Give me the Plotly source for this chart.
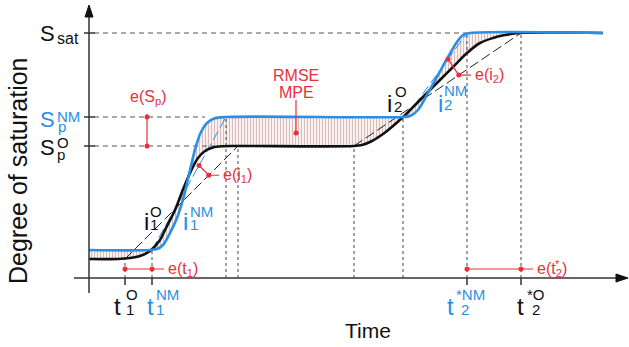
import math
import plotly.graph_objects as go

# ---------------------------------------------------------------
# Schematic: observed (O) vs. numerical model (NM) saturation curve
# x = time (arbitrary units), y = degree of saturation (arbitrary units)
# ---------------------------------------------------------------

# characteristic saturation levels
S_SAT = 245
SP_NM = 161
SP_O = 132
S_INIT_O = 19
S_INIT_NM = 28

# characteristic times
T1_O = 125
T1_NM = 152
T_PLAT_NM = 226
T_PLAT_O = 238
T_RISE2_O = 354
T_I2 = 403
T2S_NM = 467
T2S_O = 521

# observed curve (black)
obs_t = [89, 118, 130, 140, 150, 160, 165, 175, 182, 190, 198, 205, 213, 222, 235,
         354, 362, 372, 383, 393, 403, 417, 428, 440, 453, 467, 480, 493, 505, 520, 603]
obs_s = [19, 19, 20, 22, 27, 38, 48, 68, 86, 105, 120, 127, 130.5, 131.7, 132,
         132, 133, 137, 144, 152, 161, 175, 186, 198, 211, 225, 235, 240, 243, 245, 245]

# numerical-model curve (blue)
nm_t = [89, 150, 157, 163, 170, 177, 184, 190, 196, 201, 207, 214, 226,
        403, 410, 418, 428, 438, 448, 457, 463, 470, 603]
nm_s = [28, 28, 29, 33, 45, 60, 82, 108, 132, 146, 155, 159.5, 161,
        161, 162, 168, 185, 203, 221, 236, 243, 245, 245]

# axis geometry
AX_T0, AX_T1 = 74, 628
AX_S0, AX_S1 = -15, 273
AXIS_T = 89

BLACK = "#111111"
BLUE = "#2a8fe4"
RED = "#e8303a"
GUIDE = "#555555"
FONT = "Liberation Sans, Arial, sans-serif"

fig = go.Figure()


def seg(x, y, color, width=1.0, dash=None, shape="linear"):
    line = dict(color=color, width=width, dash=dash, shape=shape)
    if shape == "spline":
        line["smoothing"] = 0.9
    fig.add_trace(go.Scatter(x=x, y=y, mode="lines", hoverinfo="skip", line=line))


# hatched area between the two curves
fig.add_trace(go.Scatter(x=obs_t, y=obs_s, mode="lines", hoverinfo="skip",
                         line=dict(color="rgba(0,0,0,0)", width=1, shape="spline", smoothing=0.9)))
fig.add_trace(go.Scatter(x=nm_t, y=nm_s, mode="lines", hoverinfo="skip", fill="tonexty",
                         fillcolor="rgba(245,232,232,0.6)",
                         fillpattern=dict(shape="|", size=3, solidity=0.35,
                                          fgcolor="rgba(170,95,95,0.75)",
                                          bgcolor="rgba(247,236,236,0.8)"),
                         line=dict(color="rgba(0,0,0,0)", width=1, shape="spline", smoothing=0.9)))

# horizontal guides
dash_h = "5px,4px"
seg([AXIS_T + 5, T2S_NM + 3], [S_SAT, S_SAT], GUIDE, 1, dash_h)
seg([AXIS_T + 5, 205], [SP_NM, SP_NM], GUIDE, 1, dash_h)
seg([AXIS_T + 5, 214], [SP_O, SP_O], GUIDE, 1, dash_h)

# vertical guides
dash_v = "3px,3px"
for t, s in [(T1_O, S_INIT_O), (T1_NM, S_INIT_NM), (T_PLAT_NM, SP_NM), (T_PLAT_O, SP_O),
             (T_RISE2_O, SP_O), (T_I2, SP_NM), (T2S_NM, S_SAT), (T2S_O, S_SAT)]:
    seg([t, t], [0, s], "#444444", 1, dash_v)

# tangent lines through the inflection points
blue_tan1 = ((T1_NM, S_INIT_NM), (T_PLAT_NM, SP_NM))
black_tan1 = ((T1_O, S_INIT_O), (T_PLAT_O, SP_O))
blue_tan2 = ((406, SP_NM), (T2S_NM, S_SAT))
black_tan2 = ((T_RISE2_O, SP_O), (T2S_O, S_SAT))
for (p, q), col in [(black_tan1, "#222222"), (black_tan2, "#222222"),
                    (blue_tan1, BLUE), (blue_tan2, BLUE)]:
    seg([p[0], q[0]], [p[1], q[1]], col, 1, "10px,4px")

# curves
seg(obs_t, obs_s, BLACK, 2.6, shape="spline")
seg(nm_t, nm_s, BLUE, 2.6, shape="spline")

# axes
seg([AX_T0, AX_T1 - 11], [0, 0], "#333333", 1.5)
seg([AXIS_T, AXIS_T], [AX_S0, AX_S1 - 11], "#333333", 1.5)
fig.add_trace(go.Scatter(x=[AX_T1, AX_T1 - 12, AX_T1 - 12, AX_T1], y=[0, 4, -4, 0],
                         mode="lines", fill="toself", fillcolor="#111111",
                         line=dict(color="#111111", width=1), hoverinfo="skip"))
fig.add_trace(go.Scatter(x=[AXIS_T, AXIS_T - 4, AXIS_T + 4, AXIS_T],
                         y=[AX_S1, AX_S1 - 12, AX_S1 - 12, AX_S1],
                         mode="lines", fill="toself", fillcolor="#111111",
                         line=dict(color="#111111", width=1), hoverinfo="skip"))
for s in [S_SAT, SP_NM, SP_O]:
    seg([AXIS_T - 5, AXIS_T + 6], [s, s], "#333333", 1.5)
for t in [T1_O, T1_NM, T2S_NM, T2S_O]:
    seg([t, t], [0, -7], "#333333", 1.5)


# error markers (red)
def red_path(x, y, dots):
    fig.add_trace(go.Scatter(x=x, y=y, mode="lines", hoverinfo="skip",
                             line=dict(color=RED, width=1.2)))
    fig.add_trace(go.Scatter(x=[x[i] for i in dots], y=[y[i] for i in dots], mode="markers",
                             hoverinfo="skip", marker=dict(color=RED, size=5)))


def foot(a, line):
    (x1, y1), (x2, y2) = line
    dx, dy = x2 - x1, y2 - y1
    n = math.hypot(dx, dy)
    k = ((a[0] - x1) * dx + (a[1] - y1) * dy) / n
    return (x1 + k * dx / n, y1 + k * dy / n)


def on_line(t, line):
    (x1, y1), (x2, y2) = line
    return (t, y1 + (t - x1) * (y2 - y1) / (x2 - x1))


# e(S_p)
red_path([147, 147], [SP_O, SP_NM + 3], [0])
fig.add_trace(go.Scatter(x=[147], y=[SP_NM], mode="markers", hoverinfo="skip",
                         marker=dict(color=RED, size=5)))
# RMSE / MPE
red_path([296, 296], [145, 178], [0])
# e(t1), e(t2*)
red_path([T1_O, T1_NM, 164], [9, 9, 9], [0, 1])
red_path([T2S_NM, T2S_O, 533], [9, 9, 9], [0, 1])
# e(i1), e(i2)
a1 = on_line(199, blue_tan1)
f1 = foot(a1, black_tan1)
red_path([a1[0], f1[0], 219], [a1[1], f1[1], f1[1]], [0, 1])
a2 = on_line(448, blue_tan2)
f2 = foot(a2, black_tan2)
red_path([a2[0], f2[0], 471], [a2[1], f2[1], f2[1]], [0, 1])

annotations = []


def txt(text, x, y, size, color=BLACK, xanchor="center", angle=0):
    annotations.append(dict(text=text, x=x, y=y, xref="x", yref="y", showarrow=False,
                            xanchor=xanchor, yanchor="middle", textangle=angle,
                            font=dict(family=FONT, size=size, color=color)))


def symbol(base, sup, sub, x, y, color, dx_sup, dx_sub, dy_sup=9, dy_sub=-4, size=24, small=15):
    txt(base, x, y, size, color)
    if sup:
        txt(sup, x + dx_sup, y + dy_sup, small, color, "left")
    if sub:
        txt(sub, x + dx_sub, y + dy_sub, small, color, "left")


# y-axis level labels
symbol("S", None, "sat", 47, 245, BLACK, 8, 7.5, dy_sub=-5, size=22, small=16)
symbol("S", "NM", "p", 47, 159, BLUE, 8, 9, dy_sup=3, dy_sub=-7, size=22)
symbol("S", "O", "p", 47, 131, BLACK, 8, 8, dy_sup=5, dy_sub=-7, size=22)

# time labels
symbol("t", "O", "1", 117.5, -28, BLACK, 6, 6, dy_sup=12, dy_sub=-3)
symbol("t", "NM", "1", 150.5, -28, BLUE, 3.5, 3.5, dy_sup=12, dy_sub=-3)
symbol("t", "*NM", "2", 450, -28, BLUE, 3.5, 8.5, dy_sup=12, dy_sub=-3)
symbol("t", "*O", "2", 520.5, -28, BLACK, 4, 9, dy_sup=12, dy_sub=-3)

# inflection-point labels
symbol("i", "O", "1", 146, 57, BLACK, 2, 2, dy_sup=10, dy_sub=-3)
symbol("i", "NM", "1", 185, 57, BLUE, 2.5, 2.5, dy_sup=10, dy_sub=-3)
symbol("i", "O", "2", 389.5, 175, BLACK, 3, 2.5, dy_sup=12, dy_sub=-3)
symbol("i", "NM", "2", 440, 175, BLUE, 2, 2, dy_sup=13, dy_sub=-1)

# error labels
txt("e(S<sub>p</sub>)", 148, 181, 16, RED)
txt("RMSE", 296, 203, 16, RED)
txt("MPE", 296, 186, 16, RED)
txt("e(i<sub>1</sub>)", 221, f1[1], 16, RED, "left")
txt("e(i<sub>2</sub>)", 473, f2[1], 16, RED, "left")
txt("e(t<sub>1</sub>)", 166, 9, 16, RED, "left")
txt("e(t<sub>2</sub>)", 535, 9, 16, RED, "left")
txt("*", 553, 14, 11, RED, "left")

# axis titles
txt("Time", 368, -52, 21)
txt("Degree of saturation", 18, 107, 25, angle=-90)

fig.update_layout(
    width=629, height=347,
    margin=dict(l=0, r=0, t=0, b=0),
    paper_bgcolor="white", plot_bgcolor="white",
    showlegend=False,
    xaxis=dict(range=[0, 629], visible=False, fixedrange=True),
    yaxis=dict(range=[-69, 278], visible=False, fixedrange=True),
    annotations=annotations,
)

fig.write_html("out.html")
